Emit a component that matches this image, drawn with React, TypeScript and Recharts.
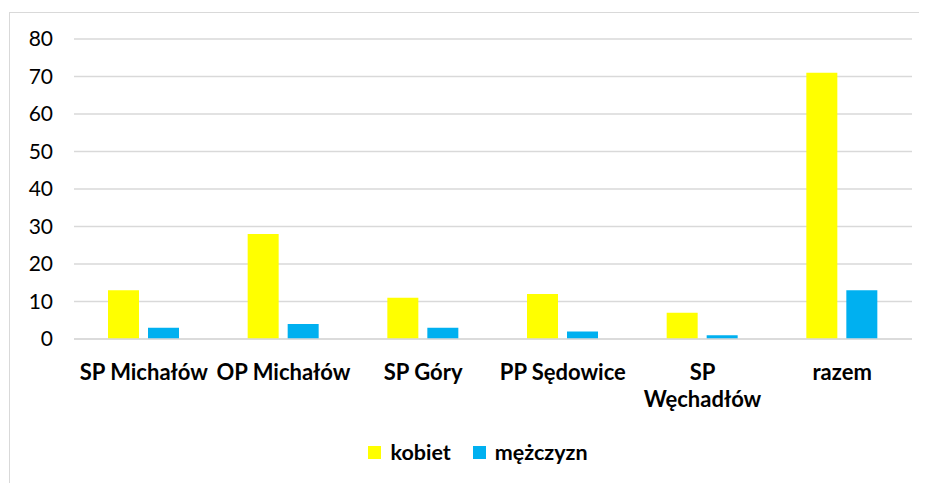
import React from 'react';
import { BarChart, Bar, XAxis, YAxis, CartesianGrid, Legend } from 'recharts';

const schools = ['SP Michałów', 'OP Michałów', 'SP Góry', 'PP Sędowice', 'SP\nWęchadłów', 'razem'];
const kobiet = [13, 28, 11, 12, 7, 71];
const mezczyzn = [3, 4, 3, 2, 1, 13];
const yTicks = [0, 10, 20, 30, 40, 50, 60, 70, 80];

const data = schools.map((name, i) => ({ name, kobiet: kobiet[i], mezczyzn: mezczyzn[i] }));

const FONT = 'Lato, "Open Sans", sans-serif';

const SchoolTick = (props: any) => {
    const { x, y, payload } = props;
    const lines: string[] = String(payload.value).split('\n');
    return (
        <text x={x} y={y + 27} textAnchor="middle" dominantBaseline="middle" fontFamily={FONT} fontSize={22} fontWeight="bold" fill="#000">
            {lines.map((l, i) => (
                <tspan key={i} x={x} dy={i === 0 ? 0 : 27}>{l}</tspan>
            ))}
        </text>
    );
};

const LegendBox = (props: any) => {
    const items = props.payload || [];
    return (
        <div style={{ height: 64, display: 'flex', justifyContent: 'center', alignItems: 'center', paddingTop: 2, paddingLeft: 34, boxSizing: 'border-box' }}>
            {items.map((it: any, i: number) => (
                <div key={i} style={{ display: 'flex', alignItems: 'center', marginLeft: i === 0 ? 0 : 22 }}>
                    <span style={{ width: 13, height: 13, background: it.color, display: 'inline-block', marginRight: 9 }} />
                    <span style={{ color: '#000', fontWeight: 'bold', fontSize: 21.5, fontFamily: FONT }}>{it.value}</span>
                </div>
            ))}
        </div>
    );
};

export default function App() {
    return (
        <div style={{ marginLeft: 1, marginTop: 4, width: 940, height: 480, borderTop: '1.5px solid #d9d9d9', borderLeft: '1.5px solid #d9d9d9', background: '#fff' }}>
            <BarChart
                width={918}
                height={470}
                data={data}
                margin={{ top: 26, right: 16, left: 0, bottom: 0 }}
                barGap={9}
                barSize={31}
            >
                <CartesianGrid vertical={false} stroke="#d9d9d9" strokeWidth={1.3} />
                <XAxis dataKey="name" axisLine={{ stroke: '#d9d9d9', strokeWidth: 1.3 }} tickLine={false} height={80} interval={0} tick={<SchoolTick />} />
                <YAxis
                    domain={[0, 80]}
                    ticks={yTicks}
                    width={64}
                    axisLine={false}
                    tickLine={false}
                    tickMargin={15}
                    tick={{ fill: '#000', fontSize: 21, fontFamily: FONT }}
                />
                <Legend verticalAlign="bottom" height={64} content={<LegendBox />} />
                <Bar dataKey="kobiet" name="kobiet" fill="#FFFF00" isAnimationActive={false} />
                <Bar dataKey="mezczyzn" name="mężczyzn" fill="#00B0F0" isAnimationActive={false} />
            </BarChart>
        </div>
    );
}
